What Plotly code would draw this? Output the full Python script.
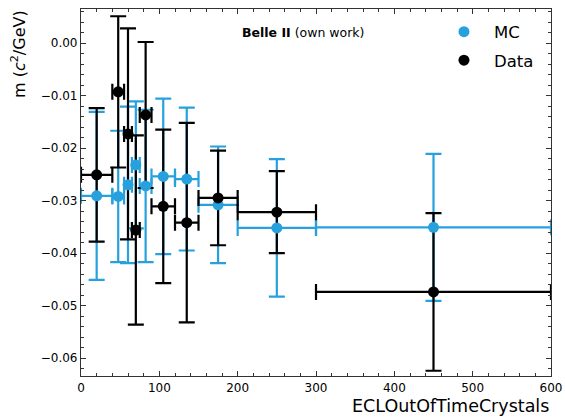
import plotly.graph_objects as go

# bin centres and half-widths (ECLOutOfTimeCrystals)
x_centers = [20, 47.5, 60, 70, 82.5, 105, 135, 175, 250, 450]
x_halfwidth = [20, 7.5, 5, 5, 7.5, 15, 15, 25, 50, 150]

mc_values = [-0.0291, -0.0292, -0.0270, -0.0232, -0.0272, -0.0254, -0.0259, -0.0308, -0.0352, -0.0351]
mc_errors = [0.0160, 0.0125, 0.0149, 0.0121, 0.0145, 0.0148, 0.0136, 0.0111, 0.0131, 0.0140]

data_values = [-0.0251, -0.0093, -0.0173, -0.0356, -0.0137, -0.0311, -0.0342, -0.0295, -0.0322, -0.0474]
data_errors = [0.0127, 0.0144, 0.0201, 0.0180, 0.0139, 0.0146, 0.0190, 0.0090, 0.0078, 0.0150]

x_ticks = [0, 100, 200, 300, 400, 500, 600]
y_ticks = [0.00, -0.01, -0.02, -0.03, -0.04, -0.05, -0.06]

BLUE = "#27a1de"
BLACK = "#000000"
FONT = "DejaVu Sans"

fig = go.Figure()


def err_trace(y, ey, color):
    return go.Scatter(
        x=x_centers, y=y, mode="markers",
        marker=dict(size=1, color=color, opacity=0),
        error_y=dict(type="data", array=ey, visible=True, color=color, thickness=2.2, width=8),
        error_x=dict(type="data", array=x_halfwidth, visible=True, color=color, thickness=2.2, width=8),
        showlegend=False, hoverinfo="skip",
    )


fig.add_trace(err_trace(mc_values, mc_errors, BLUE))
fig.add_trace(err_trace(data_values, data_errors, BLACK))

fig.add_trace(go.Scatter(x=x_centers, y=mc_values, mode="markers", name="MC",
                         marker=dict(size=11, color=BLUE), legendgroup="mc"))
fig.add_trace(go.Scatter(x=x_centers, y=data_values, mode="markers", name="Data",
                         marker=dict(size=11, color=BLACK), legendgroup="data"))

axis_common = dict(
    showgrid=False, zeroline=False, showline=True, mirror="allticks",
    linecolor="#333333", linewidth=1.2, automargin=False,
    ticks="inside", ticklen=5, tickwidth=1, tickcolor="#333333",
    tickfont=dict(family=FONT, size=12, color="#000000"),
)

fig.update_xaxes(range=[0, 600], tickvals=x_ticks, ticktext=[str(v) for v in x_ticks],
                 minor=dict(ticks="inside", ticklen=3, dtick=20, tick0=0, tickcolor="#333333"),
                 **axis_common)
fig.update_yaxes(range=[-0.0634, 0.00648], tickvals=y_ticks, tickformat=".2f",
                 minor=dict(ticks="inside", ticklen=3, dtick=0.002, tick0=0, tickcolor="#333333"),
                 **axis_common)

fig.update_layout(
    width=565, height=419,
    margin=dict(l=81, r=14, t=9, b=43),
    plot_bgcolor="white", paper_bgcolor="white",
    font=dict(family=FONT, color="#000000"),
    legend=dict(x=0.751, y=0.985, xanchor="left", yanchor="top",
                font=dict(family=FONT, size=16.5), bgcolor="rgba(0,0,0,0)",
                tracegroupgap=4, traceorder="grouped", itemwidth=50),
    annotations=[
        dict(text="<b>Belle II</b> (own work)", xref="paper", yref="paper",
             x=0.472, y=0.937, xanchor="center", yanchor="middle", showarrow=False,
             font=dict(family=FONT, size=12.5)),
        dict(text="ECLOutOfTimeCrystals", xref="paper", yref="paper",
             x=1.0, y=0, yshift=-18, xanchor="right", yanchor="top", showarrow=False,
             font=dict(family=FONT, size=17.5)),
        dict(text="m (<i>c</i><sup>2</sup>/GeV)", xref="paper", yref="paper",
             x=0, xshift=-63, y=1.0, yshift=1, xanchor="center", yanchor="top",
             textangle=-90, showarrow=False, font=dict(family=FONT, size=16)),
    ],
)

fig.write_html("out.html")
